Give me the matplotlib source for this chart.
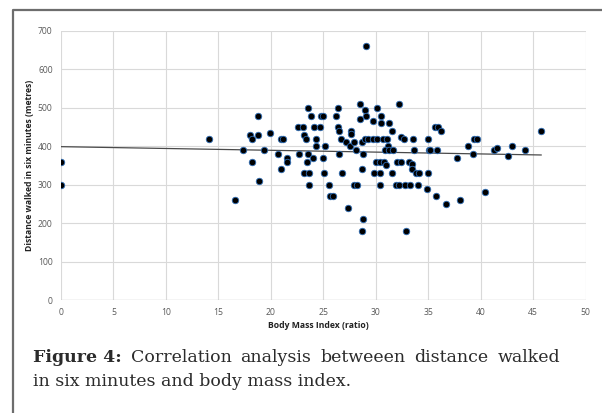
import numpy as np
import matplotlib
matplotlib.use('Agg')
import matplotlib.pyplot as plt
from matplotlib.lines import Line2D

# body mass index (ratio) and distance walked in six minutes (metres)
bmi = [0, 0, 14.1, 16.6, 17.35, 18.05, 18.2, 18.2, 18.8, 18.75,
       18.9, 19.3, 19.9, 20.7, 21.0, 21.2, 21.0, 21.5, 21.5, 22.6,
       22.7, 23.1, 23.2, 23.3, 23.55, 23.8, 23.55, 23.45, 23.2, 23.6,
       23.6, 24.1, 24.7, 24.3, 24.3, 25.2, 24.0, 25.0, 24.8, 25.0,
       25.1, 25.5, 25.6, 25.9, 26.4, 26.2, 26.4, 26.5, 26.7, 27.2,
       27.6, 27.6, 27.55, 27.9, 28.1, 26.5, 26.8, 27.9, 28.25, 27.3,
       28.45, 29.0, 29.1, 28.5, 29.7, 28.7, 29.0, 29.3, 29.75, 30.1,
       30.67, 31.1, 28.76, 28.7, 28.8, 28.7, 29.05, 30.1, 30.5, 30.5,
       31.3, 31.5, 32.2, 31.2, 30.9, 31.3, 31.6, 30.0, 30.4, 30.8,
       31.0, 29.8, 30.4, 31.55, 30.4, 32.06, 32.4, 31.9, 32.2, 32.4,
       32.7, 33.5, 33.6, 33.2, 33.4, 33.4, 33.85, 34.1, 32.8, 33.3,
       34.0, 34.9, 35.0, 35.05, 35.2, 35.0, 35.75, 35.6, 35.9, 36.2,
       35.85, 36.7, 32.85, 37.7, 38.0, 38.8, 39.3, 39.4, 39.6, 40.4,
       41.25, 41.5, 42.6, 42.96, 44.2, 45.75]
dist = [360, 300, 420, 260, 390, 430, 420, 360, 480, 430,
        310, 390, 435, 380, 420, 420, 340, 370, 360, 450,
        380, 450, 430, 420, 500, 480, 380, 360, 330, 330,
        300, 450, 450, 420, 400, 400, 370, 370, 480, 480,
        330, 300, 270, 270, 500, 480, 450, 440, 420, 410,
        440, 433, 400, 410, 390, 380, 330, 300, 300, 240,
        510, 495, 480, 470, 466, 410, 420, 420, 420, 420,
        420, 420, 380, 340, 210, 180, 660, 500, 480, 460,
        460, 440, 510, 400, 390, 390, 390, 360, 360, 360,
        350, 330, 330, 330, 300, 360, 360, 300, 300, 425,
        420, 420, 390, 360, 354, 340, 330, 330, 300, 300,
        300, 290, 420, 390, 390, 330, 270, 450, 450, 440,
        390, 250, 180, 370, 260, 400, 380, 420, 420, 280,
        390, 395, 375, 400, 390, 440]

x_ticks = [0, 5, 10, 15, 20, 25, 30, 35, 40, 45, 50]
y_ticks = [0, 100, 200, 300, 400, 500, 600, 700]

cap_bold = 'Figure 4:'
cap_line1 = 'Correlation analysis betweeen distance walked'
cap_line2 = 'in six minutes and body mass index.'

bmi = np.array(bmi)
dist = np.array(dist)

W, H = 602, 413
fig = plt.figure(figsize=(W / 100, H / 100), dpi=100)
ax = fig.add_axes([0.1013, 0.2736, 0.8717, 0.6514])

ax.scatter(bmi, dist, s=22, c='black', edgecolors='#2f6db5', linewidths=0.6, zorder=3)

# linear trendline
k, b = np.polyfit(bmi, dist, 1)
xs = np.array([bmi.min(), bmi.max()])
ax.plot(xs, k * xs + b, color='#4a4a4a', lw=0.9, zorder=2)

ax.set_xlim(0, 50)
ax.set_ylim(0, 700)
ax.set_xticks(x_ticks)
ax.set_yticks(y_ticks)
ax.grid(True, color='#d9d9d9', lw=0.8)
ax.set_axisbelow(True)
for s in ax.spines.values():
    s.set_visible(False)
ax.tick_params(length=0, labelsize=6.2, labelcolor='#595959', pad=6)
for lab in ax.get_xticklabels() + ax.get_yticklabels():
    lab.set_family('Open Sans')
ax.axhline(0, color='#bfbfbf', lw=0.9, zorder=1)

fig.text(318 / W, 1 - 326 / H, 'Body Mass Index (ratio)', ha='center', va='center',
         fontsize=6.2, fontweight='bold', family='Open Sans', color='#222222')
fig.text(30 / W, 1 - 165 / H, 'Distance walked in six minutes (metres)', ha='center',
         va='center', rotation=90, fontsize=6.2, fontweight='bold', family='Open Sans',
         color='#222222')

# outer frame (top and left edge of the box)
fig.add_artist(Line2D([13 / W, 13 / W, 1], [0, 1 - 10 / H, 1 - 10 / H],
                      transform=fig.transFigure, color='#6d6d6d', lw=1.6))

# caption, first line justified to the right margin
fs = 12.5
col = '#2b2b2b'
y1 = 1 - 357 / H
y2 = 1 - 381 / H
x_left, x_right = 33, 560
r = fig.canvas.get_renderer()
words = [(cap_bold, 'bold')] + [(w, 'normal') for w in cap_line1.split()]
arts = [fig.text(0, y1, w, ha='left', va='center', fontsize=fs, fontweight=wt,
                 family='DejaVu Serif', color=col) for w, wt in words]
widths = [a.get_window_extent(r).width for a in arts]
gap = (x_right - x_left - sum(widths)) / (len(arts) - 1)
xpos = x_left
for a, w in zip(arts, widths):
    a.set_x(xpos / W)
    xpos += w + gap
fig.text(x_left / W, y2, cap_line2, ha='left', va='center', fontsize=fs,
         family='DejaVu Serif', color=col)

fig.savefig('out.png', dpi=100)
